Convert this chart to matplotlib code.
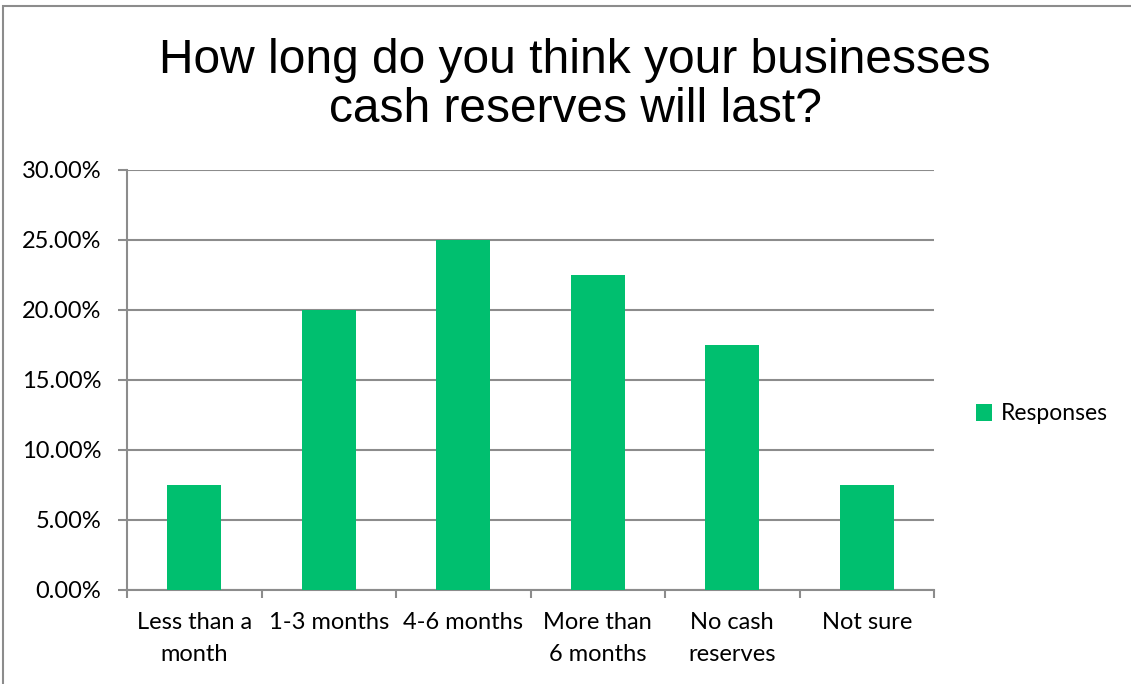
import matplotlib.pyplot as plt
from matplotlib.patches import Rectangle
from matplotlib.ticker import FuncFormatter
import numpy as np

categories = ["Less than a\nmonth", "1-3 months", "4-6 months", "More than\n6 months",
              "No cash\nreserves", "Not sure"]
responses = [0.075, 0.20, 0.25, 0.225, 0.175, 0.075]
y_ticks = [0.0, 0.05, 0.10, 0.15, 0.20, 0.25, 0.30]

grey = "#8c8c8c"
green = "#00bf6f"

fig = plt.figure(figsize=(11.31, 6.84), dpi=100)
# outer chart border (partly cut off at the right/bottom)
fig.patches.append(Rectangle((3 / 1131, -0.1), 1.2, 1 - 6 / 684 + 0.1, transform=fig.transFigure,
                             fill=False, edgecolor=grey, linewidth=1.5))

ax = fig.add_axes([127 / 1131, 1 - 590 / 684, 807 / 1131, 420 / 684])
x = np.arange(len(categories))
ax.bar(x, responses, width=0.4, color=green, zorder=3, label="Responses")

ax.set_xlim(-0.5, len(categories) - 0.5)
ax.set_ylim(0, 0.30)
ax.set_yticks(y_ticks)
ax.yaxis.set_major_formatter(FuncFormatter(lambda v, p: f"{v * 100:.2f}%"))
ax.grid(axis="y", color=grey, linewidth=1.5, zorder=0)

ax.set_xticks(x)
ax.set_xticklabels(categories, fontsize=17, family="Lato", linespacing=1.65)
ax.set_xticks(np.arange(len(categories) + 1) - 0.5, minor=True)
ax.tick_params(axis="x", which="major", length=0, pad=16)
ax.tick_params(axis="x", which="minor", length=6, width=1.5, color=grey)
ax.tick_params(axis="y", length=6.5, width=1.5, color=grey, pad=12)
for lbl in ax.get_yticklabels():
    lbl.set_fontsize(17)
    lbl.set_family("Lato")

for side in ["top", "right"]:
    ax.spines[side].set_visible(False)
for side in ["left", "bottom"]:
    ax.spines[side].set_color(grey)
    ax.spines[side].set_linewidth(1.5)

fig.text(575 / 1131, 1 - 85 / 684, "How long do you think your businesses\ncash reserves will last?",
         ha="center", va="center", fontsize=34.5, family="Liberation Sans", linespacing=1.12)

fig.legend(loc="center left", bbox_to_anchor=(955 / 1131, 1 - 414 / 684), frameon=False,
           prop={"family": "Lato", "size": 16.5}, handlelength=0.7, handleheight=0.7,
           handletextpad=0.4)

fig.savefig("out.png", dpi=100)
